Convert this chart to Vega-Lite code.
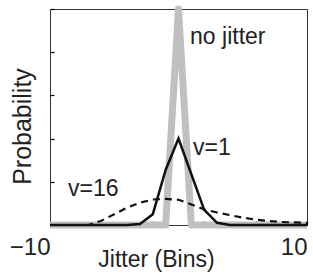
{
  "$schema": "https://vega.github.io/schema/vega-lite/v6.json",
  "width": 257,
  "height": 216,
  "autosize": {"type": "none"},
  "padding": {"left": 50, "top": 9, "right": 6, "bottom": 52},
  "background": "white",
  "config": {
    "view": {"stroke": "#333", "strokeWidth": 1},
    "font": "Liberation Sans",
    "axis": {"grid": false, "domain": false, "tickColor": "#000", "tickWidth": 1.2, "labelColor": "#222", "titleColor": "#222", "titleFontWeight": "normal", "labelFont": "Liberation Sans", "titleFont": "Liberation Sans"}
  },
  "datasets": {
    "curves": [
      {"x": -10, "p": 0, "s": "none"},
      {"x": -1, "p": 0, "s": "none"},
      {"x": 0, "p": 1, "s": "none"},
      {"x": 1, "p": 0, "s": "none"},
      {"x": 10, "p": 0, "s": "none"},
      {"x": -10, "p": 0, "s": "v1"},
      {"x": -4, "p": 0, "s": "v1"},
      {"x": -3, "p": 0.005, "s": "v1"},
      {"x": -2, "p": 0.05, "s": "v1"},
      {"x": -1, "p": 0.255, "s": "v1"},
      {"x": 0, "p": 0.4, "s": "v1"},
      {"x": 1, "p": 0.235, "s": "v1"},
      {"x": 2, "p": 0.07, "s": "v1"},
      {"x": 3, "p": 0.01, "s": "v1"},
      {"x": 4, "p": 0, "s": "v1"},
      {"x": 10, "p": 0, "s": "v1"},
      {"x": -10, "p": 0, "s": "v16"},
      {"x": -7, "p": 0, "s": "v16"},
      {"x": -6, "p": 0.02, "s": "v16"},
      {"x": -5, "p": 0.05, "s": "v16"},
      {"x": -4, "p": 0.08, "s": "v16"},
      {"x": -3, "p": 0.103, "s": "v16"},
      {"x": -2, "p": 0.118, "s": "v16"},
      {"x": -1, "p": 0.121, "s": "v16"},
      {"x": 0, "p": 0.117, "s": "v16"},
      {"x": 1, "p": 0.095, "s": "v16"},
      {"x": 2, "p": 0.072, "s": "v16"},
      {"x": 3, "p": 0.058, "s": "v16"},
      {"x": 4, "p": 0.046, "s": "v16"},
      {"x": 5, "p": 0.034, "s": "v16"},
      {"x": 6, "p": 0.025, "s": "v16"},
      {"x": 7, "p": 0.018, "s": "v16"},
      {"x": 8, "p": 0.014, "s": "v16"},
      {"x": 9, "p": 0.012, "s": "v16"},
      {"x": 10, "p": 0.01, "s": "v16"}
    ],
    "labels": [
      {"x": 0.9, "p": 0.87, "label": "no jitter"},
      {"x": 1.13, "p": 0.356, "label": "v=1"},
      {"x": -8.6, "p": 0.167, "label": "v=16"}
    ]
  },
  "layer": [
    {
      "data": {"name": "curves"},
      "transform": [{"filter": "datum.s == 'none'"}],
      "mark": {"type": "line", "color": "#c0c0c0", "strokeWidth": 7, "strokeJoin": "round", "clip": false},
      "encoding": {
        "x": {"field": "x", "type": "quantitative", "scale": {"domain": [-10, 10], "nice": false},
          "axis": {"values": [-10, -8, -6, -4, -2, 0, 2, 4, 6, 8, 10], "labelExpr": "datum.value == -10 || datum.value == 10 ? datum.label : ''", "tickSize": -4, "labelFontSize": 24, "labelFlush": false, "labelAlign": "right", "labelDx": 5, "labelBaseline": "alphabetic", "labelPadding": 33, "title": "Jitter (Bins)", "titleFontSize": 23, "titleX": 106, "titleAlign": "center", "titleY": 41, "titleBaseline": "alphabetic"}},
        "y": {"field": "p", "type": "quantitative", "scale": {"domain": [0, 1], "nice": false},
          "axis": {"values": [0, 0.1, 0.2, 0.3, 0.4, 0.5, 0.6, 0.7, 0.8, 0.9, 1], "labels": false, "tickSize": -4, "title": "Probability", "titleFontSize": 25, "titleX": -28, "titleY": 117, "titleBaseline": "middle", "titleAlign": "center", "titleAngle": -90}}
      }
    },
    {
      "data": {"name": "curves"},
      "transform": [{"filter": "datum.s == 'v16'"}],
      "mark": {"type": "line", "color": "#111", "strokeWidth": 2.2, "strokeDash": [7, 5]},
      "encoding": {
        "x": {"field": "x", "type": "quantitative"},
        "y": {"field": "p", "type": "quantitative"}
      }
    },
    {
      "data": {"name": "curves"},
      "transform": [{"filter": "datum.s == 'v1'"}],
      "mark": {"type": "line", "color": "#111", "strokeWidth": 2.5},
      "encoding": {
        "x": {"field": "x", "type": "quantitative"},
        "y": {"field": "p", "type": "quantitative"}
      }
    },
    {
      "data": {"name": "labels"},
      "mark": {"type": "text", "align": "left", "baseline": "middle", "fontSize": 23, "color": "#222", "font": "Liberation Sans"},
      "encoding": {
        "x": {"field": "x", "type": "quantitative"},
        "y": {"field": "p", "type": "quantitative"},
        "text": {"field": "label"}
      }
    }
  ]
}
